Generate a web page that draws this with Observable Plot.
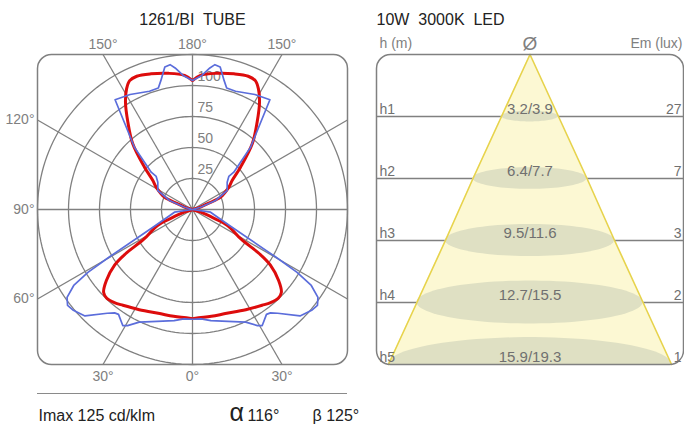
<!DOCTYPE html>
<html><head><meta charset="utf-8">
<script src="https://cdn.jsdelivr.net/npm/d3@7"></script>
<script src="https://cdn.jsdelivr.net/npm/@observablehq/plot@0.6"></script>
<style>
body{margin:0;background:#fff;}
#chart{position:relative;width:684px;height:426px;overflow:hidden;font-family:"Liberation Sans",Arial,sans-serif;}
#chart svg{position:absolute;top:0;}
#sep{position:absolute;left:37px;top:393px;width:310px;height:0;border-top:1.5px solid #8a8a8a;}
</style></head><body><div id="chart"><div id="sep"></div></div>
<script>
// ---- Polar (candela) data: half curves, angle from nadir (0°) to 180°, mirrored ----
const redAngles = [0, 10, 17.5, 28, 36, 40, 44, 47, 50.5, 54.5, 56.5, 58.6, 65.5, 68, 72, 90, 105, 111.2, 113.7, 121.6, 126.2, 131.4, 137.7, 143.5, 148, 151.4, 154, 157.3, 163, 170, 176.6, 180];
const redValues = [88, 87.5, 88, 91.5, 95.5, 98, 99.5, 98, 90, 77, 65, 46, 31, 18, 7, 0, 5, 12.7, 24.7, 34.4, 39.6, 51.6, 71.6, 87.6, 102, 111, 115.6, 116.5, 114.4, 111.5, 108.3, 104];
const blueAngles = [0, 4.5, 9.4, 20.2, 25.3, 29.2, 31, 35.2, 37, 39.4, 45.3, 50, 52.5, 55, 57.4, 59, 60.3, 66.6, 81.5, 90, 106, 111.4, 118.7, 128.2, 132.3, 132.1, 137, 141.8, 144.8, 151.5, 160, 164.3, 166.2, 169, 171.2, 173, 176, 180];
const blueValues = [88.5, 88.5, 90.8, 96.3, 100.5, 107.3, 109.2, 103.5, 104.4, 108.3, 122, 126, 127, 123.5, 113.7, 98.4, 77, 32.5, 14.7, 0, 6.7, 19.9, 31.9, 35.6, 39.6, 44.9, 68.7, 88.3, 108.3, 105.5, 101.5, 101.8, 107, 117, 118.2, 115, 108.4, 104];
const ringValues = [25, 50, 75, 100, 125];
const ringLabels = [25, 50, 75, 100];
const spokeAngles = [0, 30, 60, 90, 120, 150, 180, 210, 240, 270, 300, 330];
const angleLabels = [0, 30, 60, 90, 120, 150, 180];
const rMax = 125;

// ---- Cone data ----
const levels = ["h1", "h2", "h3", "h4", "h5"];
const alphaDiam = [3.2, 6.4, 9.5, 12.7, 15.9];
const betaDiam = [3.9, 7.7, 11.6, 15.5, 19.3];
const emLux = [27, 7, 3, 2, 1];
const coneHalfSpan = 8.62;

const rad = Math.PI / 180;
const FONT = "Liberation Sans, Arial, sans-serif";
const GRAY = "#808080";

function full(angles, values) {
  const pts = angles.map((a, i) => ({a, r: values[i], s: 1}));
  for (let i = angles.length - 1; i >= 0; i--) pts.push({a: angles[i], r: values[i], s: -1});
  return pts;
}
const px = d => d.s * d.r * Math.sin(d.a * rad);
const py = d => -d.r * Math.cos(d.a * rad);
function edge(a, s = 1) {
  const sn = Math.sin(a * rad), cs = Math.cos(a * rad);
  const t = rMax / Math.max(Math.abs(sn), Math.abs(cs));
  return {x: s * sn * t, y: -cs * t};
}

const ringPts = ringValues.flatMap(v => d3.range(0, 361, 2).map(t => ({v, t})));
const lblBoth = angleLabels.filter(a => a < 45 || a > 135).flatMap(a => (a === 0 || a === 180) ? [{a, s: 1}] : [{a, s: -1}, {a, s: 1}]);
const lblTop = lblBoth.filter(d => d.a > 90);
const lblBottom = lblBoth.filter(d => d.a < 90);
const lblLeft = angleLabels.filter(a => a >= 45 && a <= 135).map(a => ({a, s: -1}));

const polar = Plot.plot({
  width: 370, height: 426,
  marginLeft: 37, marginRight: 23, marginTop: 54, marginBottom: 62,
  x: {domain: [-rMax, rMax], axis: null},
  y: {domain: [-rMax, rMax], axis: null},
  style: {fontFamily: FONT, background: "transparent", overflow: "visible"},
  marks: [
    Plot.line(ringPts, {x: d => d.v * Math.sin(d.t * rad), y: d => d.v * Math.cos(d.t * rad), z: "v", stroke: GRAY, strokeWidth: 1.3}),
    Plot.link(spokeAngles, {x1: () => 0, y1: () => 0, x2: a => edge(a).x, y2: a => edge(a).y, stroke: GRAY, strokeWidth: 1.3}),
    Plot.frame({rx: 14, stroke: GRAY, strokeWidth: 1.5}),
    Plot.text(ringLabels, {x: () => 0, y: d => d, text: d => String(d), dx: 5, dy: -9, textAnchor: "start", lineAnchor: "middle", fontSize: 14, fill: GRAY}),
    Plot.line(full(redAngles, redValues), {x: px, y: py, stroke: "#dd0c0c", strokeWidth: 3, curve: "catmull-rom"}),
    Plot.line(full(blueAngles, blueValues), {x: px, y: py, stroke: "#5b6ddb", strokeWidth: 1.7, curve: "linear", strokeLinejoin: "round"}),
    Plot.text(lblTop, {x: d => edge(d.a, d.s).x, y: d => edge(d.a, d.s).y, text: d => d.a + "°", dy: -5.5, lineAnchor: "bottom", fontSize: 14, fill: GRAY}),
    Plot.text(lblBottom, {x: d => edge(d.a, d.s).x, y: d => edge(d.a, d.s).y, text: d => d.a + "°", dy: 16, lineAnchor: "bottom", fontSize: 14, fill: GRAY}),
    Plot.text(lblLeft, {x: d => edge(d.a, d.s).x, y: d => edge(d.a, d.s).y, text: d => d.a + "°", dx: -3, textAnchor: "end", lineAnchor: "middle", fontSize: 14, fill: GRAY}),
    Plot.text(["1261/BI\u00a0 TUBE"], {frameAnchor: "top", dy: -30, lineAnchor: "bottom", fontSize: 16, fill: "#222"}),
    Plot.text(["Imax 125 cd/klm"], {frameAnchor: "bottom-left", textAnchor: "start", dx: 1, dy: 56, lineAnchor: "bottom", fontSize: 16, fill: "#222"}),
    Plot.text(["α"], {frameAnchor: "bottom", textAnchor: "start", dx: 37, dy: 56, lineAnchor: "bottom", fontSize: 25, fill: "#222"}),
    Plot.text(["116°"], {frameAnchor: "bottom", textAnchor: "start", dx: 55, dy: 56, lineAnchor: "bottom", fontSize: 16, fill: "#222"}),
    Plot.text(["β 125°"], {frameAnchor: "bottom", textAnchor: "start", dx: 120, dy: 56, lineAnchor: "bottom", fontSize: 16, fill: "#222"})
  ]
});
polar.style.left = "0px";

// ---- Cone diagram ----
const coneData = [{level: 0, d: 0}, ...alphaDiam.map((d, i) => ({level: i + 1, d}))];
const kx = 307 / (2 * coneHalfSpan), ky = 62;
const ellipsePts = levels.flatMap((l, i) => {
  const a = alphaDiam[i] / 2, b = 0.19 * a * kx / ky;
  return d3.range(0, 181, 4).map(t => ({l, x: a * Math.cos(t * rad), y1: i + 1 - b * Math.sin(t * rad), y2: i + 1 + b * Math.sin(t * rad)}));
});
const levelData = levels.map((l, i) => ({l, level: i + 1, alpha: alphaDiam[i], beta: betaDiam[i], em: emLux[i]}));

const cone = Plot.plot({
  width: 314, height: 426,
  marginLeft: 6, marginRight: 1, marginTop: 54, marginBottom: 62,
  x: {domain: [-coneHalfSpan, coneHalfSpan], axis: null},
  y: {domain: [0, levels.length], reverse: true, axis: null},
  style: {fontFamily: FONT, background: "transparent", overflow: "visible"},
  marks: [
    Plot.ruleY(levelData.slice(0, -1), {y: "level", stroke: GRAY, strokeWidth: 1.3}),
    Plot.areaX(coneData, {y: "level", x1: d => -d.d / 2, x2: d => d.d / 2, fill: "#fcf8d3"}),
    Plot.areaY(ellipsePts, {x: "x", y1: "y1", y2: "y2", z: "l", fill: "#dfe0c3", clip: true}),
    Plot.line(coneData, {x: d => -d.d / 2, y: "level", stroke: "#e7d34c", strokeWidth: 1.6}),
    Plot.line(coneData, {x: d => d.d / 2, y: "level", stroke: "#e7d34c", strokeWidth: 1.6}),
    Plot.frame({rx: 14, stroke: GRAY, strokeWidth: 1.5}),
    Plot.text(levelData, {frameAnchor: "left", y: "level", text: "l", dx: 3, dy: -2.5, textAnchor: "start", lineAnchor: "bottom", fontSize: 14, fill: "#707070"}),
    Plot.text(levelData, {frameAnchor: "right", y: "level", text: d => String(d.em), dx: -2, dy: -2.5, textAnchor: "end", lineAnchor: "bottom", fontSize: 14, fill: "#707070"}),
    Plot.text(levelData, {x: () => 0, y: "level", text: d => `${d.alpha}/${d.beta}`, dy: -2.8, lineAnchor: "bottom", fontSize: 15, fill: "#707070"}),
    Plot.text(["10W\u00a0 3000K\u00a0 LED"], {frameAnchor: "top-left", textAnchor: "start", dx: 0, dy: -30, lineAnchor: "bottom", fontSize: 16, fill: "#222"}),
    Plot.text(["h (m)"], {frameAnchor: "top-left", textAnchor: "start", dx: 3, dy: -6.5, lineAnchor: "bottom", fontSize: 14, fill: GRAY}),
    Plot.text(["Ø"], {x: () => 0, frameAnchor: "top", dy: -5, lineAnchor: "bottom", fontSize: 19, fill: GRAY}),
    Plot.text(["Em (lux)"], {frameAnchor: "top-right", textAnchor: "end", dx: -1, dy: -6.5, lineAnchor: "bottom", fontSize: 14, fill: GRAY})
  ]
});
cone.style.left = "370px";

const chart = document.getElementById("chart");
chart.appendChild(polar);
chart.appendChild(cone);
</script>
</body></html>
